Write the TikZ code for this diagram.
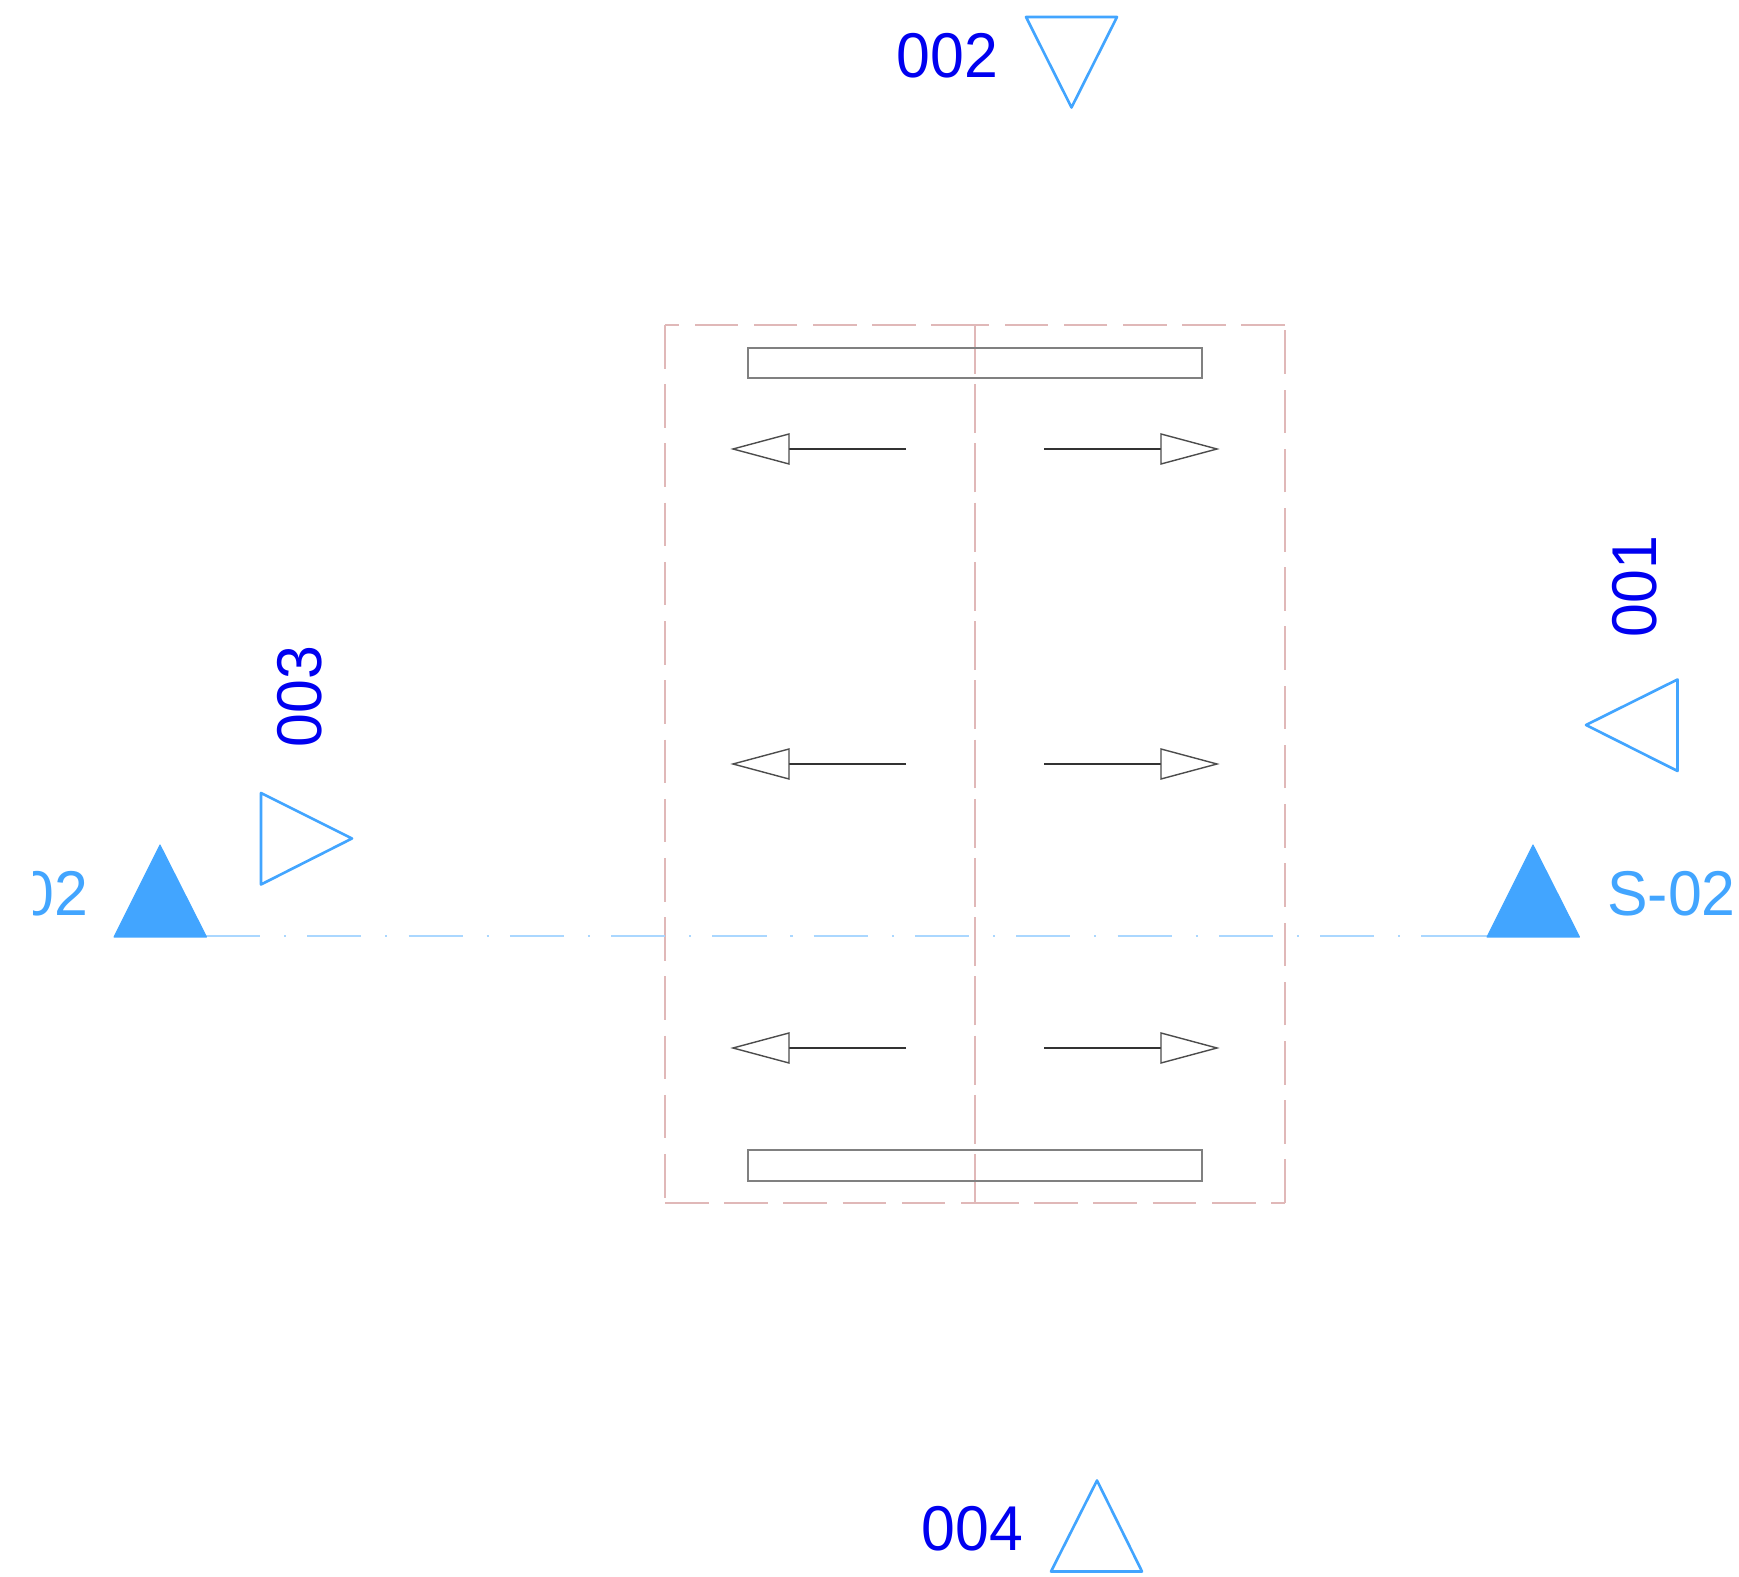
\documentclass[tikz,border=0pt]{standalone}
\usepackage{fontspec}
\setmainfont[FakeStretch=0.96]{Liberation Sans}
\definecolor{sectionblue}{HTML}{42A5FF}
\definecolor{tagblue}{HTML}{0000F0}
\definecolor{framepink}{HTML}{E0B8B8}
\tikzset{
	frameline/.style={draw=framepink,line width=0.55pt,dash pattern=on 12.4pt off 4.44pt},
	sectionline/.style={draw=sectionblue!45,line width=0.6pt,dash pattern=on 15.4pt off 6.8pt on 0.6pt off 6pt},
	sectionfill/.style={fill=sectionblue,draw=sectionblue,line width=0.3pt,line join=round},
	viewmark/.style={draw=sectionblue,line width=0.75pt,line join=round},
	plate/.style={draw=black!50,line width=0.45pt},
	shaft/.style={draw=black!80,line width=0.6pt},
	arrowhead/.style={draw=black!70,line width=0.4pt},
	tagtext/.style={text=tagblue,font=\fontsize{18}{18}\selectfont,inner sep=0pt},
	sectext/.style={text=sectionblue,font=\fontsize{18}{18}\selectfont,inner sep=0pt}
}
\begin{document}
\begin{tikzpicture}[x=0.01cm,y=-0.01cm]
		\useasboundingbox (0,0) rectangle (1739,1577);
		
		% Left half of frame
		\draw [frameline] (975,325) -- (665,325);
		\draw [frameline] (665,325) -- (665,1203);
		\draw [frameline] (665,1203) -- (975,1203);
		\draw [frameline] (975,325) -- (975,1203);
		
		% Right half of frame
		\draw [frameline] (1285,325) -- (975,325);
		\draw [frameline] (1285,1203) -- (1285,325);
		\draw [frameline] (975,1203) -- (1285,1203);
		\draw [frameline] (975,1203) -- (975,325);
		
		% Plates
		\draw [plate] (748,348) rectangle (1202,378);
		\draw [plate] (748,1150) rectangle (1202,1181);
		
		% Section line
		\coordinate (secL) at (206,936);
		\coordinate (secR) at (1487,936);
		\draw [sectionline] (secL) -- (secR);
		\draw [draw=sectionblue!45,line width=0.6pt] (1475,936) -- (secR);
		
		% Left arrows
		\draw [shaft] (906,449) -- (789,449);
		\draw [arrowhead] (733,449) -- (789,434) -- (789,464) -- cycle;
		\draw [shaft] (906,764) -- (789,764);
		\draw [arrowhead] (733,764) -- (789,749) -- (789,779) -- cycle;
		\draw [shaft] (906,1048) -- (789,1048);
		\draw [arrowhead] (733,1048) -- (789,1033) -- (789,1063) -- cycle;
		
		% Right arrows
		\draw [shaft] (1044,449) -- (1161,449);
		\draw [arrowhead] (1217,449) -- (1161,434) -- (1161,464) -- cycle;
		\draw [shaft] (1044,764) -- (1161,764);
		\draw [arrowhead] (1217,764) -- (1161,749) -- (1161,779) -- cycle;
		\draw [shaft] (1044,1048) -- (1161,1048);
		\draw [arrowhead] (1217,1048) -- (1161,1033) -- (1161,1063) -- cycle;
		
		% Section marks
		\draw [sectionfill] (160,845) -- (206.5,937) -- (114,937) -- cycle;
		\draw [sectionfill] (1533,845) -- (1579.5,937) -- (1487,937) -- cycle;
		\begin{scope}
		\clip (33,850) rectangle (110,930);
		\node [sectext] (secleft) at (24,893.5) {S-02};
		\end{scope}
		\node [sectext] (secright) at (1671.5,893.5) {S-02};
		
		% View marks
		\draw [viewmark] (1026,17) -- (1117,17) -- (1071.5,107.5) -- cycle;
		\node [tagtext] (tagb) at (947.5,55.5) {002};
		\draw [viewmark] (1097,1480.5) -- (1142,1571.5) -- (1051,1571.5) -- cycle;
		\node [tagtext] (tagd) at (972.5,1529) {004};
		\draw [viewmark] (1586,725) -- (1677.5,679.5) -- (1677.5,771) -- cycle;
		\node [tagtext,rotate=90] (taga) at (1635,586.5) {001};
		\draw [viewmark] (261,793) -- (352,838.5) -- (261,884.5) -- cycle;
		\node [tagtext,rotate=90] (tagc) at (299.5,696.5) {003};
		
		\end{tikzpicture}
\end{document}
